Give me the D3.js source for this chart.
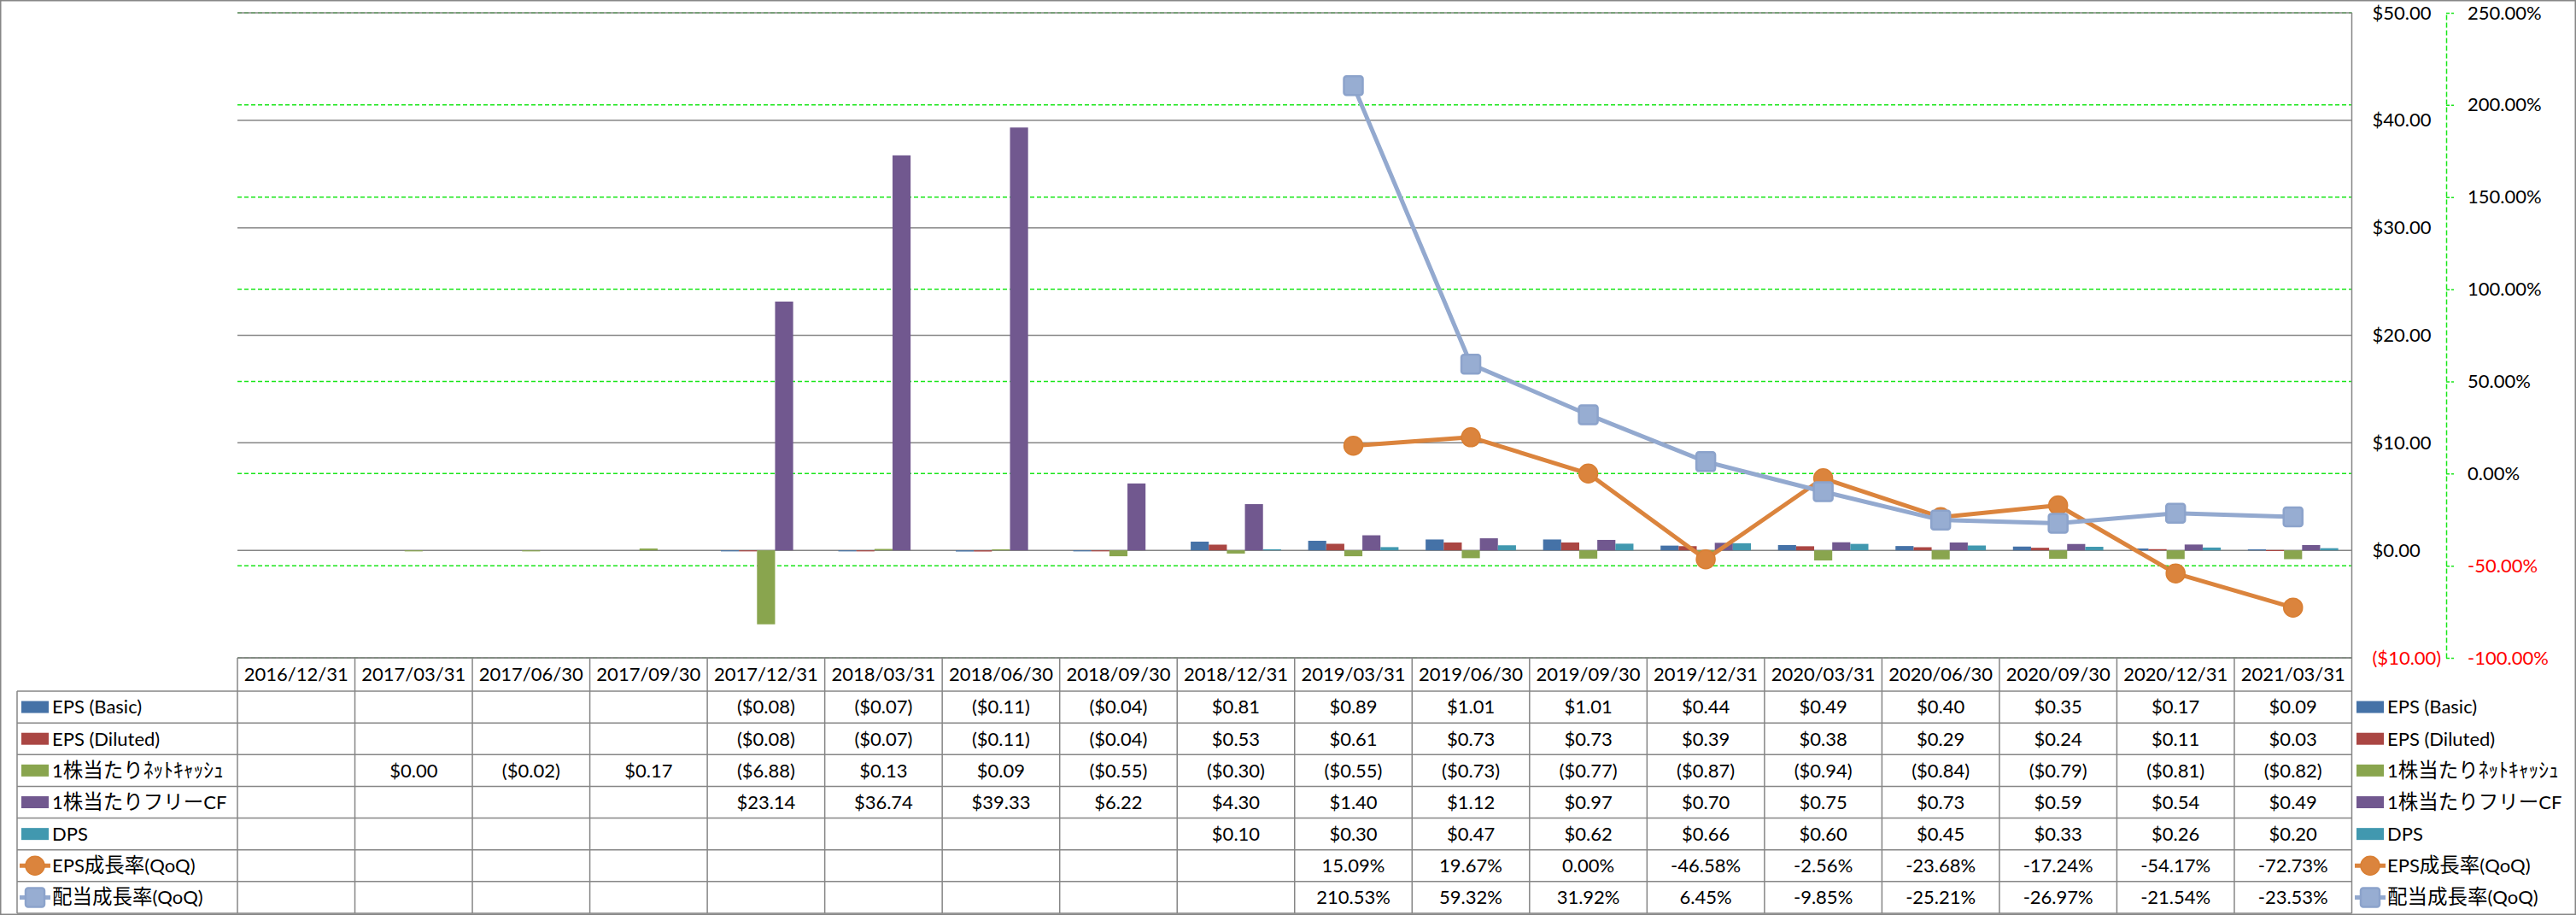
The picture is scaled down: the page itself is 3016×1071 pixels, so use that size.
<!DOCTYPE html>
<html><head><meta charset="utf-8">
<script src="https://cdn.jsdelivr.net/npm/d3@7"></script>
<style>
html,body{margin:0;padding:0;background:#fff;}
svg{display:block;}
text{font-family:Lato,'Noto Sans CJK JP',sans-serif;font-size:22px;}
</style>
</head><body>
<svg id="chart" width="3016" height="1071"></svg>
<script>
// ---------- data ----------
const dates = ["2016/12/31","2017/03/31","2017/06/30","2017/09/30","2017/12/31","2018/03/31","2018/06/30","2018/09/30","2018/12/31","2019/03/31","2019/06/30","2019/09/30","2019/12/31","2020/03/31","2020/06/30","2020/09/30","2020/12/31","2021/03/31"];
const epsBasic   = [null,null,null,null,-0.08,-0.07,-0.11,-0.04,0.81,0.89,1.01,1.01,0.44,0.49,0.40,0.35,0.17,0.09];
const epsDiluted = [null,null,null,null,-0.08,-0.07,-0.11,-0.04,0.53,0.61,0.73,0.73,0.39,0.38,0.29,0.24,0.11,0.03];
const netCash    = [null,0.00,-0.02,0.17,-6.88,0.13,0.09,-0.55,-0.30,-0.55,-0.73,-0.77,-0.87,-0.94,-0.84,-0.79,-0.81,-0.82];
const freeCF     = [null,null,null,null,23.14,36.74,39.33,6.22,4.30,1.40,1.12,0.97,0.70,0.75,0.73,0.59,0.54,0.49];
const dps        = [null,null,null,null,null,null,null,null,0.10,0.30,0.47,0.62,0.66,0.60,0.45,0.33,0.26,0.20];
const epsGrowth  = [null,null,null,null,null,null,null,null,null,15.09,19.67,0.00,-46.58,-2.56,-23.68,-17.24,-54.17,-72.73];
const divGrowth  = [null,null,null,null,null,null,null,null,null,210.53,59.32,31.92,6.45,-9.85,-25.21,-26.97,-21.54,-23.53];
const seriesNames = ["EPS (Basic)","EPS (Diluted)","1株当たりﾈｯﾄｷｬｯｼｭ","1株当たりフリーCF","DPS","EPS成長率(QoQ)","配当成長率(QoQ)"];
const leftTicks  = [-10,0,10,20,30,40,50];
const rightTicks = [-100,-50,0,50,100,150,200,250];

const barSeries = [
  {name:seriesNames[0], values:epsBasic,   color:"#4572A7"},
  {name:seriesNames[1], values:epsDiluted, color:"#AA4643"},
  {name:seriesNames[2], values:netCash,    color:"#89A54E"},
  {name:seriesNames[3], values:freeCF,     color:"#71588F"},
  {name:seriesNames[4], values:dps,        color:"#4198AF"}
];
const lineSeries = [
  {name:seriesNames[5], values:epsGrowth, color:"#DB843D", marker:"circle"},
  {name:seriesNames[6], values:divGrowth, color:"#93A9CF", marker:"square"}
];

// ---------- layout ----------
const W=3016, H=1071;
const plotL=278, plotR=2753.5, plotT=15, plotB=770;
const headTop=770, headBot=809, tableBot=1069, legL=20;
const rowH=(tableBot-headBot)/7;
const grey="#868686", green="#19E619";

const svg=d3.select("#chart");

const x=d3.scaleBand().domain(dates).range([plotL,plotR]).padding(0);
const xs=d3.scaleBand().domain(barSeries.map(d=>d.name)).range([0,x.bandwidth()]).paddingInner(0).paddingOuter(0.75);
const yL=d3.scaleLinear().domain([-10,50]).range([plotB,plotT]);
const yR=d3.scaleLinear().domain([-100,250]).range([plotB,plotT]);

const fmtCur=v=>v<0?`($${(-v).toFixed(2)})`:`$${v.toFixed(2)}`;
const fmtPct=v=>`${v.toFixed(2)}%`;

// outer border
svg.append("rect").attr("x",0.75).attr("y",0.75).attr("width",W-1.5).attr("height",H-1.5)
  .attr("fill","none").attr("stroke",grey).attr("stroke-width",1.5);

// secondary gridlines (green dashed)
svg.append("g").selectAll("line").data(rightTicks).join("line")
  .attr("x1",plotL).attr("x2",plotR).attr("y1",d=>yR(d)).attr("y2",d=>yR(d))
  .attr("stroke",green).attr("stroke-width",1.5).attr("stroke-dasharray","5,3");

// primary gridlines (grey)
svg.append("g").selectAll("line").data(leftTicks).join("line")
  .attr("x1",plotL).attr("x2",plotR).attr("y1",d=>yL(d)).attr("y2",d=>yL(d))
  .attr("stroke",grey).attr("stroke-width",1.5);

// bars
const gBars=svg.append("g");
barSeries.forEach(s=>{
  gBars.append("g").selectAll("rect").data(dates.map((d,i)=>({d,v:s.values[i]})).filter(o=>o.v!=null)).join("rect")
    .attr("x",o=>x(o.d)+xs(s.name))
    .attr("width",xs.bandwidth())
    .attr("y",o=>Math.min(yL(o.v),yL(0)))
    .attr("height",o=>Math.max(Math.abs(yL(o.v)-yL(0)),1.2))
    .attr("fill",s.color);
});

// primary axis line (right side of plot)
svg.append("line").attr("x1",plotR).attr("x2",plotR).attr("y1",plotT).attr("y2",tableBot)
  .attr("stroke",grey).attr("stroke-width",1.5);

// lines
function drawMarker(g,type,cx,cy,color){
  if(type==="circle"){
    g.append("circle").attr("cx",cx).attr("cy",cy).attr("r",11)
      .attr("fill",color).attr("stroke","#D97F33").attr("stroke-width",1.5);
  } else {
    g.append("rect").attr("x",cx-11).attr("y",cy-11).attr("width",22).attr("height",22).attr("rx",3)
      .attr("fill","#97ADD2").attr("stroke","#8CA3CB").attr("stroke-width",2.5);
  }
}
const cx=d=>x(d)+x.bandwidth()/2;
lineSeries.forEach(s=>{
  const pts=dates.map((d,i)=>({d,v:s.values[i]}));
  const line=d3.line().defined(o=>o.v!=null).x(o=>cx(o.d)).y(o=>yR(o.v));
  svg.append("path").attr("d",line(pts)).attr("fill","none").attr("stroke",s.color)
    .attr("stroke-width",5).attr("stroke-linejoin","round");
  const g=svg.append("g");
  pts.filter(o=>o.v!=null).forEach(o=>drawMarker(g,s.marker,cx(o.d),yR(o.v),s.color));
});

// primary axis labels
const axL=svg.append("g").attr("transform",`translate(${plotR},0)`)
  .call(d3.axisRight(yL).tickValues(leftTicks).tickSize(0).tickPadding(24).tickFormat(fmtCur));
axL.select(".domain").remove();
axL.selectAll("text").style("font-family","Lato,'Noto Sans CJK JP',sans-serif").style("font-size","22px")
  .style("fill",d=>d<0?"#FF0000":"#000");

// secondary axis
const axR=svg.append("g").attr("transform",`translate(2864,0)`)
  .call(d3.axisRight(yR).tickValues(rightTicks).tickSize(9).tickSizeOuter(0).tickPadding(16).tickFormat(fmtPct));
axR.select(".domain").attr("stroke",green).attr("stroke-width",1.5).attr("stroke-dasharray","6,3");
axR.selectAll(".tick line").attr("stroke",green).attr("stroke-width",1.5).attr("stroke-dasharray","4,2");
axR.selectAll("text").style("font-family","Lato,'Noto Sans CJK JP',sans-serif").style("font-size","22px")
  .style("fill",d=>d<0?"#FF0000":"#000");

// ---------- data table ----------
const gT=svg.append("g");
gT.append("line").attr("x1",plotL).attr("x2",plotR).attr("y1",headTop).attr("y2",headTop).attr("stroke",grey).attr("stroke-width",1.5);
for(let r=0;r<=7;r++){
  const y=headBot+r*rowH;
  gT.append("line").attr("x1",legL).attr("x2",plotR).attr("y1",y).attr("y2",y).attr("stroke",grey).attr("stroke-width",1.5);
}
dates.forEach(d=>{
  gT.append("line").attr("x1",x(d)).attr("x2",x(d)).attr("y1",headTop).attr("y2",tableBot).attr("stroke",grey).attr("stroke-width",1.5);
});
gT.append("line").attr("x1",legL).attr("x2",legL).attr("y1",headBot).attr("y2",tableBot).attr("stroke",grey).attr("stroke-width",1.5);

gT.selectAll("text.hd").data(dates).join("text").attr("class","hd")
  .attr("x",d=>cx(d)).attr("y",(headTop+headBot)/2).attr("dy","0.36em").attr("text-anchor","middle").text(d=>d);

const allSeries=[...barSeries.map(s=>({...s,type:"bar",fmt:fmtCur})),...lineSeries.map(s=>({...s,type:"line",fmt:fmtPct}))];
function legendKey(g,s,x0,x1,yc){
  if(s.type==="bar"){
    g.append("rect").attr("x",x0+2).attr("y",yc-7).attr("width",x1-x0-4).attr("height",14).attr("fill",s.color);
  } else {
    g.append("line").attr("x1",x0).attr("x2",x1).attr("y1",yc).attr("y2",yc).attr("stroke",s.color).attr("stroke-width",5);
    drawMarker(g,s.marker,(x0+x1)/2,yc,s.color);
  }
}
function labelText(g,xp,yc,str){
  const t=g.append("text").attr("x",xp).attr("y",yc).attr("dy","0.36em");
  const runs=str.match(/[\x00-\x7F]+|[^\x00-\x7F]+/g);
  runs.forEach(r=>{
    const sp=t.append("tspan").text(r);
    if(/[^\x00-\x7F]/.test(r)) sp.style("font-size","23.5px");
  });
}
allSeries.forEach((s,r)=>{
  const yc=headBot+r*rowH+rowH/2;
  s.values.forEach((v,i)=>{
    if(v==null) return;
    gT.append("text").attr("x",cx(dates[i])).attr("y",yc).attr("dy","0.36em").attr("text-anchor","middle").text(s.fmt(v));
  });
  legendKey(gT,s,23,59,yc);
  labelText(gT,61,yc,s.name);
  legendKey(gT,s,2757,2793,yc);
  labelText(gT,2795,yc,s.name);
});
</script>
</body></html>
